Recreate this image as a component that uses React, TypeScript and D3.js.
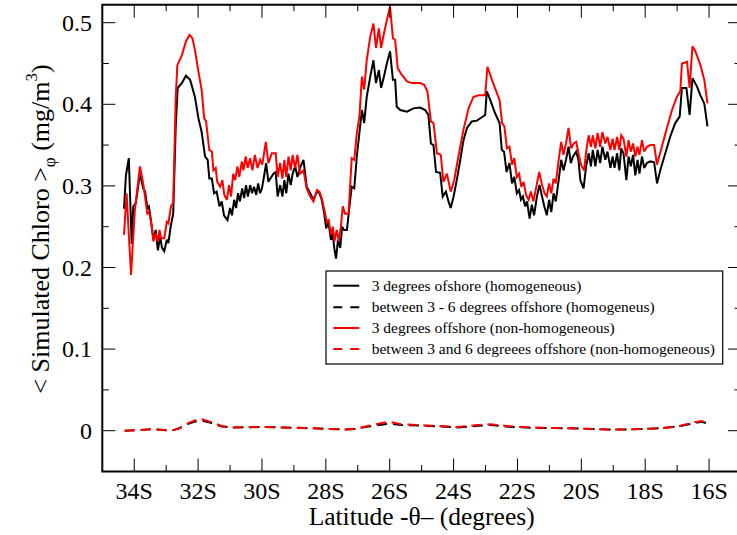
import React from 'react';
import * as d3 from 'd3';

// 3 degrees offshore (homogeneous) – black solid
const latHomog3 = [-34.32,-34.26,-34.17,-34.08,-34.03,-33.95,-33.82,-33.72,-33.66,-33.59,-33.54,-33.47,-33.40,-33.33,-33.26,-33.19,-33.13,-33.06,-32.98,-32.93,-32.86,-32.78,-32.70,-32.64,-32.51,-32.38,-32.25,-32.10,-31.99,-31.89,-31.84,-31.78,-31.70,-31.65,-31.57,-31.50,-31.42,-31.33,-31.26,-31.19,-31.08,-31.00,-30.94,-30.87,-30.81,-30.75,-30.69,-30.62,-30.56,-30.50,-30.44,-30.37,-30.31,-30.25,-30.18,-30.12,-30.06,-30.00,-29.93,-29.87,-29.80,-29.64,-29.57,-29.51,-29.43,-29.36,-29.30,-29.24,-29.17,-29.10,-29.04,-28.96,-28.89,-28.81,-28.70,-28.60,-28.49,-28.39,-28.28,-28.20,-28.13,-28.05,-27.99,-27.92,-27.84,-27.79,-27.73,-27.68,-27.62,-27.55,-27.49,-27.43,-27.34,-27.26,-27.19,-27.11,-27.03,-26.95,-26.87,-26.80,-26.72,-26.61,-26.51,-26.43,-26.34,-26.27,-26.18,-26.09,-25.99,-25.90,-25.83,-25.78,-25.67,-25.46,-25.26,-25.05,-24.89,-24.79,-24.71,-24.63,-24.55,-24.42,-24.34,-24.24,-24.16,-24.09,-24.00,-23.90,-23.79,-23.69,-23.58,-23.43,-23.27,-23.08,-23.01,-22.96,-22.85,-22.70,-22.56,-22.49,-22.42,-22.34,-22.25,-22.17,-22.10,-22.02,-21.95,-21.89,-21.83,-21.76,-21.70,-21.62,-21.55,-21.48,-21.39,-21.31,-21.23,-21.16,-21.08,-21.01,-20.94,-20.87,-20.80,-20.71,-20.63,-20.56,-20.48,-20.40,-20.33,-20.26,-20.16,-20.09,-20.03,-19.93,-19.85,-19.77,-19.70,-19.64,-19.56,-19.49,-19.41,-19.34,-19.25,-19.18,-19.09,-19.02,-18.96,-18.88,-18.81,-18.75,-18.68,-18.59,-18.52,-18.45,-18.38,-18.31,-18.24,-18.18,-18.10,-18.03,-17.95,-17.84,-17.72,-17.63,-17.53,-17.37,-17.22,-17.06,-16.92,-16.85,-16.71,-16.61,-16.52,-16.38,-16.27,-16.15,-16.05];
const chlHomog3 = [0.272,0.313,0.334,0.229,0.275,0.279,0.315,0.297,0.293,0.273,0.275,0.256,0.234,0.246,0.221,0.238,0.224,0.220,0.234,0.230,0.250,0.266,0.373,0.420,0.426,0.435,0.430,0.409,0.383,0.366,0.352,0.336,0.332,0.309,0.309,0.291,0.293,0.275,0.281,0.264,0.258,0.273,0.264,0.283,0.273,0.291,0.281,0.297,0.285,0.301,0.287,0.301,0.291,0.299,0.289,0.303,0.291,0.297,0.313,0.328,0.305,0.315,0.317,0.287,0.301,0.287,0.307,0.291,0.315,0.301,0.315,0.324,0.311,0.322,0.332,0.299,0.291,0.283,0.293,0.291,0.283,0.266,0.248,0.256,0.234,0.242,0.222,0.211,0.234,0.224,0.250,0.246,0.246,0.275,0.299,0.297,0.336,0.365,0.393,0.377,0.409,0.434,0.454,0.426,0.442,0.420,0.434,0.450,0.465,0.430,0.430,0.397,0.393,0.391,0.395,0.396,0.393,0.387,0.352,0.350,0.317,0.316,0.287,0.293,0.281,0.273,0.287,0.307,0.332,0.356,0.371,0.379,0.380,0.385,0.387,0.416,0.405,0.389,0.377,0.344,0.342,0.317,0.328,0.303,0.311,0.291,0.295,0.283,0.287,0.275,0.281,0.260,0.277,0.264,0.287,0.301,0.287,0.275,0.264,0.283,0.268,0.291,0.281,0.307,0.332,0.319,0.332,0.348,0.328,0.336,0.342,0.332,0.307,0.297,0.324,0.340,0.324,0.344,0.324,0.344,0.328,0.348,0.332,0.342,0.322,0.336,0.322,0.340,0.319,0.346,0.340,0.307,0.336,0.324,0.338,0.313,0.332,0.315,0.336,0.322,0.328,0.330,0.329,0.303,0.319,0.340,0.360,0.377,0.385,0.420,0.420,0.387,0.432,0.422,0.411,0.401,0.373];

// 3 degrees offshore (non-homogeneous) – red solid
const latNonHomog3 = [-34.32,-34.24,-34.10,-33.98,-33.82,-33.72,-33.59,-33.53,-33.45,-33.40,-33.33,-33.26,-33.21,-33.16,-33.06,-32.98,-32.93,-32.85,-32.78,-32.70,-32.65,-32.51,-32.38,-32.27,-32.18,-32.10,-31.99,-31.89,-31.81,-31.75,-31.71,-31.65,-31.57,-31.52,-31.45,-31.40,-31.31,-31.24,-31.18,-31.10,-31.03,-30.97,-30.90,-30.84,-30.77,-30.71,-30.63,-30.58,-30.51,-30.45,-30.37,-30.30,-30.22,-30.14,-30.06,-29.99,-29.88,-29.80,-29.69,-29.57,-29.51,-29.43,-29.36,-29.30,-29.24,-29.17,-29.10,-29.04,-28.96,-28.89,-28.81,-28.70,-28.60,-28.49,-28.39,-28.28,-28.20,-28.13,-28.05,-27.97,-27.91,-27.84,-27.78,-27.73,-27.66,-27.59,-27.53,-27.47,-27.40,-27.29,-27.19,-27.11,-27.03,-26.95,-26.87,-26.80,-26.72,-26.61,-26.51,-26.43,-26.34,-26.27,-26.18,-26.09,-25.99,-25.90,-25.83,-25.75,-25.62,-25.46,-25.31,-25.05,-24.92,-24.82,-24.71,-24.63,-24.52,-24.40,-24.32,-24.21,-24.09,-23.98,-23.85,-23.69,-23.53,-23.38,-23.22,-23.01,-22.94,-22.80,-22.56,-22.48,-22.41,-22.33,-22.25,-22.17,-22.10,-22.02,-21.95,-21.88,-21.81,-21.73,-21.65,-21.58,-21.50,-21.39,-21.32,-21.23,-21.15,-21.08,-21.01,-20.94,-20.87,-20.80,-20.71,-20.63,-20.56,-20.48,-20.40,-20.32,-20.24,-20.16,-20.09,-20.01,-19.91,-19.85,-19.77,-19.70,-19.64,-19.56,-19.49,-19.41,-19.34,-19.25,-19.18,-19.09,-19.02,-18.96,-18.88,-18.81,-18.75,-18.68,-18.59,-18.52,-18.45,-18.38,-18.31,-18.24,-18.18,-18.10,-18.03,-17.95,-17.84,-17.72,-17.63,-17.48,-17.32,-17.16,-17.01,-16.90,-16.85,-16.69,-16.61,-16.52,-16.43,-16.27,-16.15,-16.05];
const chlNonHomog3 = [0.240,0.291,0.191,0.271,0.324,0.303,0.266,0.268,0.250,0.232,0.242,0.232,0.246,0.236,0.236,0.256,0.254,0.275,0.279,0.409,0.448,0.460,0.477,0.485,0.481,0.467,0.440,0.418,0.383,0.379,0.365,0.344,0.342,0.319,0.322,0.305,0.299,0.307,0.289,0.283,0.301,0.287,0.315,0.307,0.324,0.311,0.330,0.319,0.336,0.322,0.334,0.319,0.338,0.322,0.332,0.326,0.354,0.328,0.340,0.340,0.311,0.328,0.309,0.332,0.311,0.336,0.319,0.338,0.322,0.338,0.315,0.319,0.297,0.287,0.281,0.295,0.293,0.285,0.271,0.256,0.258,0.240,0.250,0.232,0.246,0.232,0.250,0.275,0.266,0.266,0.334,0.332,0.365,0.385,0.434,0.418,0.454,0.483,0.499,0.469,0.493,0.469,0.487,0.503,0.520,0.481,0.479,0.444,0.436,0.428,0.426,0.426,0.424,0.416,0.379,0.377,0.340,0.338,0.305,0.315,0.293,0.307,0.336,0.369,0.395,0.409,0.411,0.411,0.446,0.430,0.405,0.377,0.373,0.346,0.348,0.326,0.334,0.311,0.315,0.299,0.305,0.289,0.283,0.293,0.281,0.303,0.317,0.301,0.291,0.287,0.303,0.291,0.309,0.303,0.332,0.354,0.338,0.352,0.371,0.346,0.352,0.354,0.340,0.326,0.319,0.342,0.362,0.348,0.362,0.346,0.365,0.348,0.366,0.352,0.360,0.344,0.358,0.344,0.360,0.344,0.362,0.358,0.336,0.356,0.342,0.352,0.336,0.348,0.338,0.356,0.342,0.348,0.350,0.350,0.326,0.348,0.371,0.393,0.409,0.416,0.450,0.452,0.420,0.471,0.465,0.448,0.430,0.401];

// between 3 and 6 degrees offshore – dashed
const latOffshore36 = [-34.30,-33.79,-33.41,-32.84,-32.59,-32.33,-31.95,-31.63,-31.25,-30.87,-29.98,-29.34,-28.45,-27.43,-27.11,-26.67,-26.16,-26.03,-25.65,-24.89,-23.87,-23.24,-22.85,-22.35,-21.58,-20.44,-19.17,-18.53,-17.52,-17.01,-16.49,-16.24,-16.05];
const chlHomog36 = [0.000,0.001,0.002,0.000,0.003,0.008,0.013,0.010,0.005,0.004,0.0045,0.004,0.003,0.0015,0.002,0.005,0.008,0.009,0.007,0.006,0.004,0.006,0.007,0.005,0.0035,0.003,0.0015,0.0015,0.003,0.005,0.009,0.011,0.009];
const chlNonHomog36 = [0.000,0.001,0.002,0.000,0.003,0.009,0.015,0.011,0.0055,0.004,0.0045,0.004,0.003,0.0015,0.002,0.006,0.010,0.011,0.008,0.0065,0.0045,0.007,0.008,0.0058,0.004,0.003,0.0015,0.0015,0.003,0.005,0.010,0.012,0.010];

const xTicksMajor = [-34, -32, -30, -28, -26, -24, -22, -20, -18, -16];
const xTickLabels = ['34S', '32S', '30S', '28S', '26S', '24S', '22S', '20S', '18S', '16S'];
const xTicksMinor = [-33, -31, -29, -27, -25, -23, -21, -19, -17];
const yTicksMajor = [0, 0.1, 0.2, 0.3, 0.4, 0.5];
const yTickLabels = ['0', '0.1', '0.2', '0.3', '0.4', '0.5'];
const yTicksMinor = [0.05, 0.15, 0.25, 0.35, 0.45];

const legendLabels = [
  '3 degrees ofshore (homogeneous)',
  'between 3 - 6 degrees offshore (homogeneus)',
  '3 degrees offshore (non-homogeneous)',
  'between 3 and 6 degreees offshore (non-homogeneous)',
];

const W = 737, H = 535;
const L = 102.3, R = 741, T = 4.75, B = 471.5;
const serif = { fontFamily: "'Liberation Serif', 'Times New Roman', Times, serif" };

export default function App() {
  const x = d3.scaleLinear().domain([-35, -15]).range([L, R]);
  const y = d3.scaleLinear().domain([-0.05, 0.522]).range([B, T]);
  const line = (lats: number[], vals: number[]) =>
    d3.line<number>().x((_, i) => x(lats[i])).y((v) => y(v))(vals) || '';

  const series = [
    { d: line(latHomog3, chlHomog3), color: '#000', dash: undefined },
    { d: line(latNonHomog3, chlNonHomog3), color: '#ff0000', dash: undefined },
    { d: line(latOffshore36, chlHomog36), color: '#000', dash: '10,6' },
    { d: line(latOffshore36, chlNonHomog36), color: '#ff0000', dash: '10,6' },
  ];
  const legendStyles = [
    { color: '#000', dash: undefined },
    { color: '#000', dash: '9,8' },
    { color: '#ff0000', dash: undefined },
    { color: '#ff0000', dash: '9,8' },
  ];
  const legRows = [285.7, 307.3, 328, 349];

  return (
    <svg width={W} height={H} style={{ position: 'absolute', left: 0, top: 0, background: '#fff' }}>
      <rect x={0} y={0} width={W} height={H} fill="#fff" />
      {series.map((s, i) => (
        <path key={i} d={s.d} fill="none" stroke={s.color} strokeWidth={2}
          strokeDasharray={s.dash} strokeLinejoin="miter" strokeMiterlimit={3} />
      ))}
      {xTicksMajor.map((t) => (
        <g key={'xM' + t} stroke="#000" strokeWidth={1}>
          <line x1={x(t)} x2={x(t)} y1={B} y2={B - 13} />
          <line x1={x(t)} x2={x(t)} y1={T} y2={T + 13} />
        </g>
      ))}
      {xTicksMinor.map((t) => (
        <g key={'xm' + t} stroke="#000" strokeWidth={1}>
          <line x1={x(t)} x2={x(t)} y1={B} y2={B - 6.5} />
          <line x1={x(t)} x2={x(t)} y1={T} y2={T + 6.5} />
        </g>
      ))}
      {yTicksMajor.map((t) => (
        <g key={'yM' + t} stroke="#000" strokeWidth={1}>
          <line x1={L} x2={L + 13} y1={y(t)} y2={y(t)} />
          <line x1={R} x2={R - 13} y1={y(t)} y2={y(t)} />
        </g>
      ))}
      {yTicksMinor.map((t) => (
        <g key={'ym' + t} stroke="#000" strokeWidth={1}>
          <line x1={L} x2={L + 6.5} y1={y(t)} y2={y(t)} />
          <line x1={R} x2={R - 6.5} y1={y(t)} y2={y(t)} />
        </g>
      ))}
      <rect x={L} y={T} width={R - L} height={B - T} fill="none" stroke="#000" strokeWidth={2} />
      {xTicksMajor.map((t, i) => (
        <text key={'xl' + t} x={x(t)} y={499} textAnchor="middle" fontSize={24} style={serif}>{xTickLabels[i]}</text>
      ))}
      {yTicksMajor.map((t, i) => (
        <text key={'yl' + t} x={92} y={y(t) + 8} textAnchor="end" fontSize={24} style={serif}>{yTickLabels[i]}</text>
      ))}
      <text x={(L + R) / 2} y={525} textAnchor="middle" fontSize={25.5} style={serif}>Latitude -θ– (degrees)</text>
      <text transform="translate(49,229) rotate(-90)" textAnchor="middle" fontSize={26} style={serif}>
        {'< Simulated Chloro >'}
        <tspan fontSize={17} dy={6}>φ</tspan>
        <tspan dy={-6}>{' (mg/m'}</tspan>
        <tspan fontSize={17} dy={-12}>3</tspan>
        <tspan dy={12}>)</tspan>
      </text>
      <rect x={326} y={271} width={396.7} height={93} fill="#fff" stroke="#000" strokeWidth={1.2} />
      {legendLabels.map((lab, i) => (
        <g key={'lg' + i}>
          <line x1={333.3} x2={359.3} y1={legRows[i]} y2={legRows[i]} stroke={legendStyles[i].color}
            strokeWidth={2} strokeDasharray={legendStyles[i].dash} />
          <text x={371.7} y={legRows[i] + 5} fontSize={15.5} style={serif}>{lab}</text>
        </g>
      ))}
    </svg>
  );
}
